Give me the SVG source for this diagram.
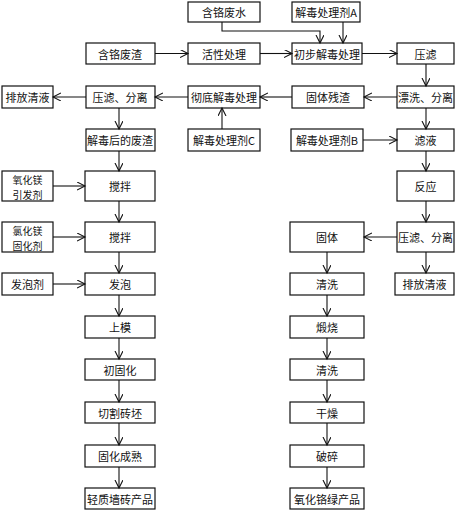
<svg xmlns="http://www.w3.org/2000/svg" width="457" height="510" viewBox="0 0 457 510">
<style>
rect{fill:#fff;stroke:#111;stroke-width:1.2}
text{font-family:"Noto Sans CJK SC","Liberation Sans",sans-serif;font-size:11px;fill:#111;text-anchor:middle;dominant-baseline:central}
text.two{font-size:10px}
#connectors path,#connectors line,#connectors polyline{fill:none;stroke:#111;stroke-width:1.1;marker-end:url(#arr)}
</style>
<defs>
<marker id="arr" markerUnits="userSpaceOnUse" markerWidth="10" markerHeight="10" refX="8" refY="4" orient="auto">
<path d="M0,0 L8,4 L0,8" fill="none" stroke="#111" stroke-width="1.1"/>
</marker>
</defs>
<g id="n1"><rect x="188" y="2" width="72" height="20"/><text x="224" y="12">含铬废水</text></g>
<g id="n2"><rect x="292" y="2" width="68" height="20"/><text x="326" y="12">解毒处理剂A</text></g>
<g id="n3"><rect x="86" y="43" width="69" height="21"/><text x="120" y="53.5">含铬废渣</text></g>
<g id="n4"><rect x="188" y="43" width="72" height="21"/><text x="224" y="53.5">活性处理</text></g>
<g id="n5"><rect x="292" y="43" width="70" height="21"/><text x="327" y="53.5">初步解毒处理</text></g>
<g id="n6"><rect x="397" y="43" width="57" height="21"/><text x="425.5" y="53.5">压滤</text></g>
<g id="n7"><rect x="2" y="86" width="51" height="22"/><text x="27.5" y="97">排放清液</text></g>
<g id="n8"><rect x="86" y="86" width="69" height="22"/><text x="120" y="97">压滤、分离</text></g>
<g id="n9"><rect x="188" y="86" width="72" height="22"/><text x="224" y="97">彻底解毒处理</text></g>
<g id="n10"><rect x="292" y="86" width="72" height="22"/><text x="328" y="97">固体残渣</text></g>
<g id="n11"><rect x="397" y="86" width="57" height="22"/><text x="425.5" y="97">漂洗、分离</text></g>
<g id="n12"><rect x="86" y="129" width="69" height="22"/><text x="120" y="140">解毒后的废渣</text></g>
<g id="n13"><rect x="188" y="129" width="72" height="22"/><text x="224" y="140">解毒处理剂C</text></g>
<g id="n14"><rect x="291" y="129" width="72" height="22"/><text x="327" y="140">解毒处理剂B</text></g>
<g id="n15"><rect x="397" y="129" width="57" height="22"/><text x="425.5" y="140">滤液</text></g>
<g id="n16"><rect x="2" y="171" width="51" height="30"/><text class="two" x="27.5" y="179">氧化镁</text><text class="two" x="27.5" y="194">引发剂</text></g>
<g id="n17"><rect x="85" y="171" width="70" height="30"/><text x="120" y="186">搅拌</text></g>
<g id="n18"><rect x="397" y="171" width="57" height="30"/><text x="425.5" y="186">反应</text></g>
<g id="n19"><rect x="2" y="222" width="51" height="30"/><text class="two" x="27.5" y="230">氯化镁</text><text class="two" x="27.5" y="245">固化剂</text></g>
<g id="n20"><rect x="85" y="222" width="70" height="30"/><text x="120" y="237">搅拌</text></g>
<g id="n21"><rect x="290" y="222" width="74" height="30"/><text x="327" y="237">固体</text></g>
<g id="n22"><rect x="397" y="222" width="57" height="30"/><text x="425.5" y="237">压滤、分离</text></g>
<g id="n23"><rect x="2" y="273" width="51" height="22"/><text x="27.5" y="284">发泡剂</text></g>
<g id="n24"><rect x="85" y="273" width="70" height="22"/><text x="120" y="284">发泡</text></g>
<g id="n25"><rect x="290" y="273" width="74" height="22"/><text x="327" y="284">清洗</text></g>
<g id="n26"><rect x="395" y="273" width="59" height="22"/><text x="424.5" y="284">排放清液</text></g>
<g id="n27"><rect x="85" y="316" width="70" height="22"/><text x="120" y="327">上模</text></g>
<g id="n28"><rect x="290" y="316" width="74" height="22"/><text x="327" y="327">煅烧</text></g>
<g id="n29"><rect x="85" y="359" width="70" height="21"/><text x="120" y="369.5">初固化</text></g>
<g id="n30"><rect x="290" y="359" width="74" height="21"/><text x="327" y="369.5">清洗</text></g>
<g id="n31"><rect x="85" y="402" width="70" height="21"/><text x="120" y="412.5">切割砖坯</text></g>
<g id="n32"><rect x="290" y="402" width="74" height="21"/><text x="327" y="412.5">干燥</text></g>
<g id="n33"><rect x="85" y="445" width="70" height="22"/><text x="120" y="456">固化成熟</text></g>
<g id="n34"><rect x="290" y="445" width="74" height="22"/><text x="327" y="456">破碎</text></g>
<g id="n35"><rect x="85" y="488" width="70" height="21"/><text x="120" y="498.5">轻质墙砖产品</text></g>
<g id="n36"><rect x="290" y="488" width="74" height="21"/><text x="327" y="498.5">氧化铬绿产品</text></g>
<g id="connectors">
<polyline points="222,22 222,31 320,31 320,43"/>
<line x1="343" y1="22" x2="343" y2="43"/>
<line x1="155" y1="53.5" x2="188" y2="53.5"/>
<line x1="260" y1="53.5" x2="292" y2="53.5"/>
<line x1="362" y1="53.5" x2="397" y2="53.5"/>
<line x1="426" y1="64" x2="426" y2="86"/>
<line x1="397" y1="97" x2="364" y2="97"/>
<line x1="292" y1="97" x2="260" y2="97"/>
<line x1="188" y1="97" x2="155" y2="97"/>
<line x1="86" y1="97" x2="53" y2="97"/>
<line x1="222" y1="129" x2="222" y2="108"/>
<line x1="119" y1="108" x2="119" y2="129"/>
<line x1="426" y1="108" x2="426" y2="129"/>
<line x1="363" y1="140" x2="397" y2="140"/>
<line x1="426" y1="151" x2="426" y2="171"/>
<line x1="426" y1="201" x2="426" y2="222"/>
<line x1="397" y1="237" x2="364" y2="237"/>
<line x1="426" y1="252" x2="426" y2="273"/>
<line x1="327" y1="252" x2="327" y2="273"/>
<line x1="327" y1="295" x2="327" y2="316"/>
<line x1="327" y1="338" x2="327" y2="359"/>
<line x1="327" y1="380" x2="327" y2="402"/>
<line x1="327" y1="423" x2="327" y2="445"/>
<line x1="327" y1="467" x2="327" y2="488"/>
<line x1="119" y1="151" x2="119" y2="171"/>
<line x1="119" y1="201" x2="119" y2="222"/>
<line x1="119" y1="252" x2="119" y2="273"/>
<line x1="119" y1="295" x2="119" y2="316"/>
<line x1="119" y1="338" x2="119" y2="359"/>
<line x1="119" y1="380" x2="119" y2="402"/>
<line x1="119" y1="423" x2="119" y2="445"/>
<line x1="119" y1="467" x2="119" y2="488"/>
<line x1="53" y1="186" x2="85" y2="186"/>
<line x1="53" y1="237" x2="85" y2="237"/>
<line x1="53" y1="284" x2="85" y2="284"/>
</g>
</svg>
